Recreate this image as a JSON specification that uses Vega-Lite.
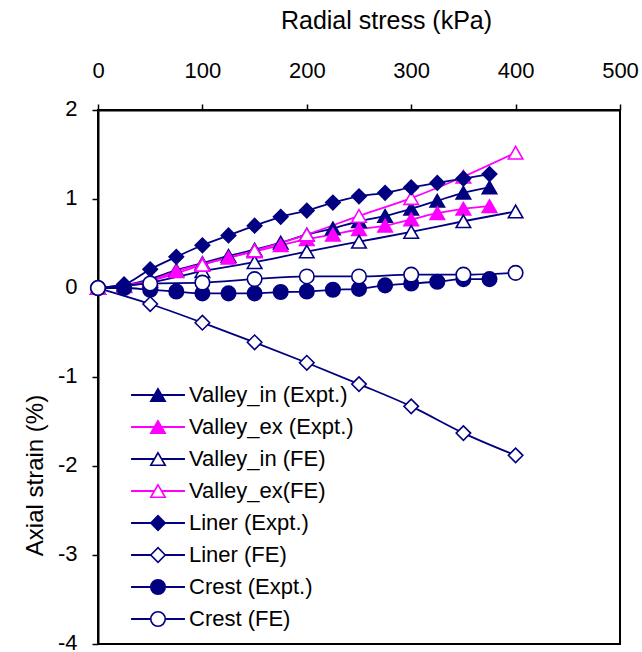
{
  "$schema": "https://vega.github.io/schema/vega-lite/v6.json",
  "width": 522,
  "height": 534,
  "autosize": "none",
  "padding": {"left": 98, "top": 110, "right": 22, "bottom": 8},
  "background": "white",
  "config": {"view": {"stroke": "#000", "strokeWidth": 2}, "font": "Liberation Sans"},
  "data": {"values": [
    {"series": "Valley_in (Expt.)", "stress": 0, "strain": 0},
    {"series": "Valley_in (Expt.)", "stress": 25, "strain": 0.03},
    {"series": "Valley_in (Expt.)", "stress": 50, "strain": 0.1},
    {"series": "Valley_in (Expt.)", "stress": 75, "strain": 0.2},
    {"series": "Valley_in (Expt.)", "stress": 100, "strain": 0.28},
    {"series": "Valley_in (Expt.)", "stress": 125, "strain": 0.36},
    {"series": "Valley_in (Expt.)", "stress": 150, "strain": 0.43},
    {"series": "Valley_in (Expt.)", "stress": 175, "strain": 0.51},
    {"series": "Valley_in (Expt.)", "stress": 200, "strain": 0.6},
    {"series": "Valley_in (Expt.)", "stress": 225, "strain": 0.67},
    {"series": "Valley_in (Expt.)", "stress": 250, "strain": 0.75},
    {"series": "Valley_in (Expt.)", "stress": 275, "strain": 0.81},
    {"series": "Valley_in (Expt.)", "stress": 300, "strain": 0.89},
    {"series": "Valley_in (Expt.)", "stress": 325, "strain": 0.98},
    {"series": "Valley_in (Expt.)", "stress": 350, "strain": 1.07},
    {"series": "Valley_in (Expt.)", "stress": 375, "strain": 1.13},
    {"series": "Valley_ex (Expt.)", "stress": 0, "strain": 0},
    {"series": "Valley_ex (Expt.)", "stress": 25, "strain": 0.02},
    {"series": "Valley_ex (Expt.)", "stress": 50, "strain": 0.08},
    {"series": "Valley_ex (Expt.)", "stress": 75, "strain": 0.19},
    {"series": "Valley_ex (Expt.)", "stress": 100, "strain": 0.27},
    {"series": "Valley_ex (Expt.)", "stress": 125, "strain": 0.34},
    {"series": "Valley_ex (Expt.)", "stress": 150, "strain": 0.41},
    {"series": "Valley_ex (Expt.)", "stress": 175, "strain": 0.48},
    {"series": "Valley_ex (Expt.)", "stress": 200, "strain": 0.55},
    {"series": "Valley_ex (Expt.)", "stress": 225, "strain": 0.6},
    {"series": "Valley_ex (Expt.)", "stress": 250, "strain": 0.66},
    {"series": "Valley_ex (Expt.)", "stress": 275, "strain": 0.7},
    {"series": "Valley_ex (Expt.)", "stress": 300, "strain": 0.77},
    {"series": "Valley_ex (Expt.)", "stress": 325, "strain": 0.84},
    {"series": "Valley_ex (Expt.)", "stress": 350, "strain": 0.89},
    {"series": "Valley_ex (Expt.)", "stress": 375, "strain": 0.92},
    {"series": "Valley_in (FE)", "stress": 0, "strain": 0},
    {"series": "Valley_in (FE)", "stress": 50, "strain": 0.06},
    {"series": "Valley_in (FE)", "stress": 100, "strain": 0.19},
    {"series": "Valley_in (FE)", "stress": 150, "strain": 0.29},
    {"series": "Valley_in (FE)", "stress": 200, "strain": 0.41},
    {"series": "Valley_in (FE)", "stress": 250, "strain": 0.52},
    {"series": "Valley_in (FE)", "stress": 300, "strain": 0.63},
    {"series": "Valley_in (FE)", "stress": 350, "strain": 0.75},
    {"series": "Valley_in (FE)", "stress": 400, "strain": 0.86},
    {"series": "Valley_ex(FE)", "stress": 0, "strain": 0},
    {"series": "Valley_ex(FE)", "stress": 50, "strain": 0.08},
    {"series": "Valley_ex(FE)", "stress": 100, "strain": 0.26},
    {"series": "Valley_ex(FE)", "stress": 150, "strain": 0.42},
    {"series": "Valley_ex(FE)", "stress": 200, "strain": 0.6},
    {"series": "Valley_ex(FE)", "stress": 250, "strain": 0.81},
    {"series": "Valley_ex(FE)", "stress": 300, "strain": 1.01},
    {"series": "Valley_ex(FE)", "stress": 350, "strain": 1.25},
    {"series": "Valley_ex(FE)", "stress": 400, "strain": 1.52},
    {"series": "Liner (Expt.)", "stress": 0, "strain": 0},
    {"series": "Liner (Expt.)", "stress": 25, "strain": 0.04},
    {"series": "Liner (Expt.)", "stress": 50, "strain": 0.21},
    {"series": "Liner (Expt.)", "stress": 75, "strain": 0.35},
    {"series": "Liner (Expt.)", "stress": 100, "strain": 0.48},
    {"series": "Liner (Expt.)", "stress": 125, "strain": 0.59},
    {"series": "Liner (Expt.)", "stress": 150, "strain": 0.7},
    {"series": "Liner (Expt.)", "stress": 175, "strain": 0.8},
    {"series": "Liner (Expt.)", "stress": 200, "strain": 0.87},
    {"series": "Liner (Expt.)", "stress": 225, "strain": 0.96},
    {"series": "Liner (Expt.)", "stress": 250, "strain": 1.03},
    {"series": "Liner (Expt.)", "stress": 275, "strain": 1.07},
    {"series": "Liner (Expt.)", "stress": 300, "strain": 1.13},
    {"series": "Liner (Expt.)", "stress": 325, "strain": 1.18},
    {"series": "Liner (Expt.)", "stress": 350, "strain": 1.23},
    {"series": "Liner (Expt.)", "stress": 375, "strain": 1.28},
    {"series": "Liner (FE)", "stress": 0, "strain": 0},
    {"series": "Liner (FE)", "stress": 50, "strain": -0.18},
    {"series": "Liner (FE)", "stress": 100, "strain": -0.39},
    {"series": "Liner (FE)", "stress": 150, "strain": -0.61},
    {"series": "Liner (FE)", "stress": 200, "strain": -0.84},
    {"series": "Liner (FE)", "stress": 250, "strain": -1.08},
    {"series": "Liner (FE)", "stress": 300, "strain": -1.33},
    {"series": "Liner (FE)", "stress": 350, "strain": -1.63},
    {"series": "Liner (FE)", "stress": 400, "strain": -1.88},
    {"series": "Crest (Expt.)", "stress": 0, "strain": 0},
    {"series": "Crest (Expt.)", "stress": 25, "strain": 0.0},
    {"series": "Crest (Expt.)", "stress": 50, "strain": -0.02},
    {"series": "Crest (Expt.)", "stress": 75, "strain": -0.04},
    {"series": "Crest (Expt.)", "stress": 100, "strain": -0.06},
    {"series": "Crest (Expt.)", "stress": 125, "strain": -0.06},
    {"series": "Crest (Expt.)", "stress": 150, "strain": -0.06},
    {"series": "Crest (Expt.)", "stress": 175, "strain": -0.045},
    {"series": "Crest (Expt.)", "stress": 200, "strain": -0.04},
    {"series": "Crest (Expt.)", "stress": 225, "strain": -0.02},
    {"series": "Crest (Expt.)", "stress": 250, "strain": -0.01},
    {"series": "Crest (Expt.)", "stress": 275, "strain": 0.03},
    {"series": "Crest (Expt.)", "stress": 300, "strain": 0.05},
    {"series": "Crest (Expt.)", "stress": 325, "strain": 0.07},
    {"series": "Crest (Expt.)", "stress": 350, "strain": 0.1},
    {"series": "Crest (Expt.)", "stress": 375, "strain": 0.1},
    {"series": "Crest (FE)", "stress": 0, "strain": 0},
    {"series": "Crest (FE)", "stress": 50, "strain": 0.05},
    {"series": "Crest (FE)", "stress": 100, "strain": 0.06},
    {"series": "Crest (FE)", "stress": 150, "strain": 0.1},
    {"series": "Crest (FE)", "stress": 200, "strain": 0.13},
    {"series": "Crest (FE)", "stress": 250, "strain": 0.13},
    {"series": "Crest (FE)", "stress": 300, "strain": 0.15},
    {"series": "Crest (FE)", "stress": 350, "strain": 0.15},
    {"series": "Crest (FE)", "stress": 400, "strain": 0.17}
  ]},
  "encoding": {
    "x": {
      "field": "stress", "type": "quantitative",
      "scale": {"domain": [0, 500], "nice": false, "zero": false},
      "axis": {
        "orient": "top", "title": "Radial stress (kPa)", "values": [0, 100, 200, 300, 400, 500],
        "grid": false, "domainColor": "#000", "domainWidth": 2, "tickColor": "#000", "tickSize": 6, "tickWidth": 1.5,
        "labelFontSize": 22, "labelColor": "#000", "labelPadding": 22, "labelFont": "Liberation Sans", "labelFlush": false,
        "titleFontSize": 25, "titleFontWeight": "normal", "titleColor": "#000", "titlePadding": 26, "titleFont": "Liberation Sans",
        "titleAnchor": "middle", "titleX": 288
      }
    },
    "y": {
      "field": "strain", "type": "quantitative",
      "scale": {"domain": [-4, 2], "nice": false, "zero": false},
      "axis": {
        "title": "Axial strain (%)", "values": [-4, -3, -2, -1, 0, 1, 2],
        "labelExpr": "'' + datum.value", "labelFlush": false, "labelOffset": -2,
        "grid": false, "domainColor": "#000", "domainWidth": 2, "tickColor": "#000", "tickSize": 6, "tickWidth": 1.5,
        "labelFontSize": 22, "labelColor": "#000", "labelPadding": 15, "labelFont": "Liberation Sans",
        "titleFontSize": 24, "titleFontWeight": "normal", "titleColor": "#000", "titlePadding": 10, "titleFont": "Liberation Sans",
        "titleAnchor": "middle", "titleY": 365
      }
    }
  },
  "layer": [
    {
      "mark": {"type": "line", "strokeWidth": 1.8, "interpolate": "monotone"},
      "encoding": {
        "stroke": {
          "field": "series", "type": "nominal",
          "scale": {
            "domain": ["Valley_in (Expt.)", "Valley_ex (Expt.)", "Valley_in (FE)", "Valley_ex(FE)", "Liner (Expt.)", "Liner (FE)", "Crest (Expt.)", "Crest (FE)"],
            "range": ["#000080", "#FF00FF", "#000080", "#FF00FF", "#000080", "#000080", "#000080", "#000080"]
          },
          "legend": {
            "orient": "none", "legendX": 33, "legendY": 274, "title": null, "padding": 0,
            "labelFontSize": 22, "labelFont": "Liberation Sans", "labelColor": "#000", "labelLimit": 400, "labelOpacity": 0,
            "symbolType": "M-3.72,0H3.72", "symbolSize": 210, "symbolStrokeWidth": 1.8,
            "rowPadding": 10, "labelOffset": 20, "symbolOffset": 16
          }
        }
      }
    },
    {
      "mark": {"type": "point", "filled": false, "opacity": 1, "strokeWidth": 1.6},
      "encoding": {
        "stroke": {
          "field": "series", "type": "nominal",
          "scale": {
            "domain": ["Valley_in (Expt.)", "Valley_ex (Expt.)", "Valley_in (FE)", "Valley_ex(FE)", "Liner (Expt.)", "Liner (FE)", "Crest (Expt.)", "Crest (FE)"],
            "range": ["#000080", "#FF00FF", "#000080", "#FF00FF", "#000080", "#000080", "#000080", "#000080"]
          },
          "legend": {
            "orient": "none", "legendX": 33, "legendY": 274, "title": null, "padding": 0,
            "labelFontSize": 22, "labelFont": "Liberation Sans", "labelColor": "#000", "labelLimit": 400,
            "symbolStrokeWidth": 1.6, "symbolOpacity": 1,
            "rowPadding": 10, "labelOffset": 20, "symbolOffset": 16
          }
        },
        "fill": {
          "field": "series", "type": "nominal",
          "scale": {
            "domain": ["Valley_in (Expt.)", "Valley_ex (Expt.)", "Valley_in (FE)", "Valley_ex(FE)", "Liner (Expt.)", "Liner (FE)", "Crest (Expt.)", "Crest (FE)"],
            "range": ["#000080", "#FF00FF", "#FFFFFF", "#FFFFFF", "#000080", "#FFFFFF", "#000080", "#FFFFFF"]
          },
          "legend": {
            "orient": "none", "legendX": 33, "legendY": 274, "title": null, "padding": 0,
            "labelFontSize": 22, "labelFont": "Liberation Sans", "labelColor": "#000", "labelLimit": 400,
            "symbolStrokeWidth": 1.6, "symbolOpacity": 1,
            "rowPadding": 10, "labelOffset": 20, "symbolOffset": 16
          }
        },
        "shape": {
          "field": "series", "type": "nominal",
          "scale": {
            "domain": ["Valley_in (Expt.)", "Valley_ex (Expt.)", "Valley_in (FE)", "Valley_ex(FE)", "Liner (Expt.)", "Liner (FE)", "Crest (Expt.)", "Crest (FE)"],
            "range": ["triangle-up", "triangle-up", "triangle-up", "triangle-up", "diamond", "diamond", "circle", "circle"]
          },
          "legend": {
            "orient": "none", "legendX": 33, "legendY": 274, "title": null, "padding": 0,
            "labelFontSize": 22, "labelFont": "Liberation Sans", "labelColor": "#000", "labelLimit": 400,
            "symbolStrokeWidth": 1.6, "symbolOpacity": 1,
            "rowPadding": 10, "labelOffset": 20, "symbolOffset": 16
          }
        },
        "size": {
          "field": "series", "type": "nominal",
          "scale": {
            "domain": ["Valley_in (Expt.)", "Valley_ex (Expt.)", "Valley_in (FE)", "Valley_ex(FE)", "Liner (Expt.)", "Liner (FE)", "Crest (Expt.)", "Crest (FE)"],
            "range": [210, 210, 210, 210, 160, 160, 140, 140]
          },
          "legend": {
            "orient": "none", "legendX": 33, "legendY": 274, "title": null, "padding": 0,
            "labelFontSize": 22, "labelFont": "Liberation Sans", "labelColor": "#000", "labelLimit": 400,
            "symbolStrokeWidth": 1.6, "symbolOpacity": 1,
            "rowPadding": 10, "labelOffset": 20, "symbolOffset": 16
          }
        }
      }
    }
  ],
  "resolve": {
    "scale": {"stroke": "independent", "fill": "independent", "shape": "independent", "size": "independent"},
    "legend": {"stroke": "independent", "fill": "independent", "shape": "independent", "size": "independent"}
  }
}
